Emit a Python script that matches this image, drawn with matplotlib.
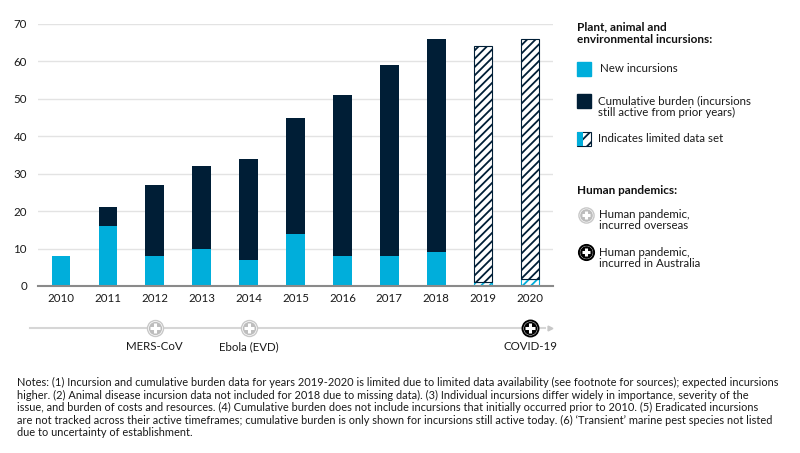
import matplotlib
matplotlib.use("Agg")
import matplotlib.pyplot as plt
from matplotlib.patches import Rectangle
import numpy as np

plt.rcParams['font.family'] = ['Lato', 'DejaVu Sans']
plt.rcParams['hatch.linewidth'] = 1.3

years = ['2010', '2011', '2012', '2013', '2014', '2015', '2016', '2017', '2018', '2019', '2020']
new_incursions = [8, 16, 8, 10, 7, 14, 8, 8, 9, 1, 2]
total_burden = [8, 21, 27, 32, 34, 45, 51, 59, 66, 64, 66]
limited = [False] * 9 + [True, True]

pandemic_names = ['MERS-CoV', 'Ebola (EVD)', 'COVID-19']
pandemic_years = ['2012', '2014', '2020']
pandemic_local = [False, False, True]

BLUE = '#00aedb'
NAVY = '#001e36'
GRID = '#e3e3e3'

fig = plt.figure(figsize=(8, 4.53), dpi=100)
W, H = 800, 453

# main bar chart
ax = fig.add_axes([38 / W, 1 - 286 / H, (553 - 38) / W, (286 - 24) / H])
x = np.arange(len(years))
cum = np.array(total_burden) - np.array(new_incursions)
for i in x:
    if limited[i]:
        ax.bar(i, new_incursions[i], 0.4, color='white', edgecolor=BLUE,
               hatch='////', linewidth=0.8, zorder=3)
        ax.bar(i, cum[i], 0.4, bottom=new_incursions[i], color='white',
               edgecolor=NAVY, hatch='////', linewidth=0.8, zorder=3)
    else:
        ax.bar(i, new_incursions[i], 0.4, color=BLUE, zorder=3)
        ax.bar(i, cum[i], 0.4, bottom=new_incursions[i], color=NAVY, zorder=3)

ax.set_xlim(-0.49, len(years) - 0.51)
ax.set_ylim(0, 70)
ax.set_yticks(range(0, 71, 10))
ax.set_xticks(x)
ax.set_xticklabels(years)
ax.grid(axis='y', color=GRID, linewidth=1, zorder=0)
for s in ['top', 'right', 'left']:
    ax.spines[s].set_visible(False)
ax.spines['bottom'].set_color('#8a8a8a')
ax.spines['bottom'].set_linewidth(1.5)
ax.spines['bottom'].set_zorder(4)
ax.tick_params(axis='both', length=0, labelsize=8.3, colors='#1a1a1a')
ax.tick_params(axis='y', pad=8)
ax.tick_params(axis='x', pad=5)


def pandemic_icon(a, px, py, local, scale=1.0):
    ring = 'black' if local else '#c8c8c8'
    fill = 'black' if local else '#bdbdbd'
    a.plot(px, py, 'o', ms=11.5 * scale, mfc='white', mec=ring,
           mew=1.4 if local else 1.0, zorder=5, clip_on=False)
    a.plot(px, py, 'o', ms=8.5 * scale, mfc=fill, mec=fill, zorder=6, clip_on=False)
    a.plot(px, py, '+', ms=6.5 * scale, mec='white', mew=2.2, zorder=7, clip_on=False)


# timeline under the axis
tl = fig.add_axes([38 / W, 1 - 360 / H, (553 - 38) / W, 50 / H])
tl.set_xlim(ax.get_xlim())
tl.set_ylim(50, 0)
tl.axis('off')
tl.plot([-0.66, 10.33], [18, 18], color='#d6d6d6', lw=1.5, zorder=1, clip_on=False)
tl.plot(10.43, 18, '>', ms=3.5, color='#c8c8c8', clip_on=False)
for name, yr, local in zip(pandemic_names, pandemic_years, pandemic_local):
    xi = years.index(yr)
    pandemic_icon(tl, xi, 18, local)
    tl.text(xi, 37, name, ha='center', va='center', fontsize=8.3, color='#1a1a1a')

# legend panel, pixel coords
lg = fig.add_axes([0, 0, 1, 1], facecolor='none')
lg.set_xlim(0, W)
lg.set_ylim(H, 0)
lg.axis('off')
lg.text(577, 33, 'Plant, animal and\nenvironmental incursions:', fontsize=8.5,
        fontweight='bold', va='center', ha='left', linespacing=1.15, color='#111111')
lg.add_patch(Rectangle((577, 62), 14, 14, color=BLUE))
lg.text(600, 69, 'New incursions', fontsize=8.3, va='center', color='#1a1a1a')
lg.add_patch(Rectangle((577, 94), 14, 14, color=NAVY))
lg.text(598, 107, 'Cumulative burden (incursions\nstill active from prior years)',
        fontsize=8.3, va='center', linespacing=1.1, color='#1a1a1a')
lg.add_patch(Rectangle((577, 132), 14, 14, facecolor='white', edgecolor=NAVY,
                       hatch='///', linewidth=0.8))
lg.add_patch(Rectangle((577, 132), 6, 14, facecolor=BLUE, edgecolor=BLUE, linewidth=0))
lg.text(598, 139, 'Indicates limited data set', fontsize=8.3, va='center', color='#1a1a1a')

lg.text(577, 190, 'Human pandemics:', fontsize=8.5, fontweight='bold',
        va='center', color='#111111')
pandemic_icon(lg, 586, 215, False, 0.95)
lg.text(599, 220, 'Human pandemic,\nincurred overseas', fontsize=8.3, va='center',
        linespacing=1.1, color='#1a1a1a')
pandemic_icon(lg, 586, 252, True, 0.95)
lg.text(599, 258, 'Human pandemic,\nincurred in Australia', fontsize=8.3, va='center',
        linespacing=1.1, color='#1a1a1a')

notes = ("Notes: (1) Incursion and cumulative burden data for years 2019-2020 is limited due to limited data availability (see footnote for sources); expected incursions\n"
         "higher. (2) Animal disease incursion data not included for 2018 due to missing data). (3) Individual incursions differ widely in importance, severity of the\n"
         "issue, and burden of costs and resources. (4) Cumulative burden does not include incursions that initially occurred prior to 2010. (5) Eradicated incursions\n"
         "are not tracked across their active timeframes; cumulative burden is only shown for incursions still active today. (6) \u2018Transient\u2019 marine pest species not listed\n"
         "due to uncertainty of establishment.")
lg.text(17, 377, notes, fontsize=7.95, va='top', ha='left', linespacing=1.17,
        color='#1a1a1a', family=['Liberation Sans Narrow', 'Lato', 'DejaVu Sans'])

fig.savefig('out.png', dpi=100)
